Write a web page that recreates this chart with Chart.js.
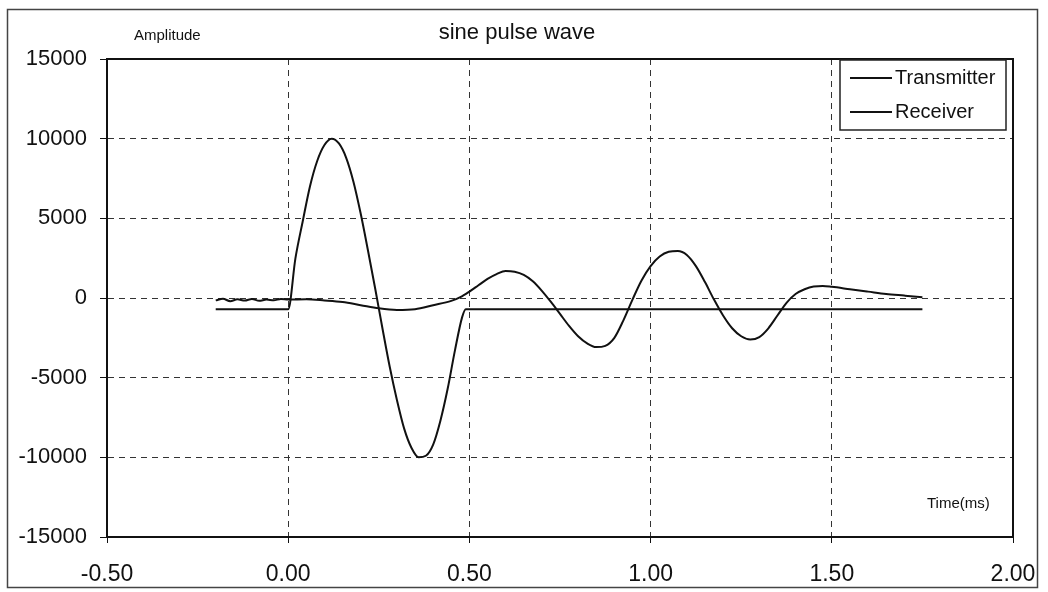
<!DOCTYPE html>
<html>
<head>
    <title>sine pulse wave</title>
    <script src="https://cdn.jsdelivr.net/npm/chart.js"></script>
    <style>
        body {
            background-color: #ffffff;
            margin: 0;
            padding: 0;
        }
        .chart-container {
            width: 1048px;
            height: 592px;
        }
    </style>
</head>
<body>
    <div class="chart-container">
        <canvas id="pulseChart" width="1048" height="592"></canvas>
    </div>

    <script>
        // time (ms) and amplitude
        const transmitterTime = [-0.20, 0.00, 0.02, 0.04, 0.06, 0.08, 0.10, 0.12, 0.14, 0.16, 0.18, 0.20,
            0.22, 0.24, 0.26, 0.28, 0.30, 0.32, 0.34, 0.36, 0.38, 0.40, 0.42, 0.44, 0.46, 0.48, 0.49, 1.75];
        const transmitterAmp = [-700, -700, 2500, 4800, 7000, 8600, 9600, 10000, 9700, 8800, 7300, 5300,
            3000, 600, -1900, -4300, -6400, -8200, -9400, -10000, -9900, -9200, -7700, -5700, -3300, -1200, -700, -700];

        const receiverTime = [-0.20, -0.18, -0.16, -0.14, -0.12, -0.10, -0.08, -0.06, -0.04, -0.02, 0.00,
            0.05, 0.10, 0.15, 0.20, 0.25, 0.30, 0.35, 0.40, 0.45, 0.475, 0.50, 0.525, 0.55, 0.575, 0.60,
            0.625, 0.65, 0.675, 0.70, 0.725, 0.75, 0.775, 0.80, 0.825, 0.85, 0.875, 0.90, 0.925, 0.95,
            0.975, 1.00, 1.025, 1.05, 1.075, 1.10, 1.125, 1.15, 1.175, 1.20, 1.225, 1.25, 1.275, 1.30,
            1.325, 1.35, 1.375, 1.40, 1.425, 1.45, 1.475, 1.50, 1.55, 1.60, 1.65, 1.70, 1.75];
        const receiverAmp = [-150, -50, -200, -80, -160, -60, -180, -100, -140, -60, -100,
            -80, -150, -250, -450, -650, -750, -700, -450, -180, 50, 400, 800, 1200, 1500, 1700,
            1650, 1450, 1050, 450, -250, -1000, -1750, -2400, -2850, -3080, -3000, -2500, -1400, -100,
            1100, 2000, 2600, 2900, 2950, 2700, 2000, 1000, -100, -1100, -1900, -2400, -2600, -2450,
            -1900, -1100, -300, 250, 550, 720, 750, 700, 550, 400, 250, 150, 50];

        const seriesNames = ['Transmitter', 'Receiver'];
        const chartTitle = 'sine pulse wave';
        const yAxisLabel = 'Amplitude';
        const xAxisLabel = 'Time(ms)';

        const FONT = 'Arial, "Liberation Sans", sans-serif';

        function toPoints(xs, ys) {
            return xs.map((x, i) => ({ x: x, y: ys[i] }));
        }

        // texts, legend box and frames drawn like the Excel original
        const excelDecor = {
            id: 'excelDecor',
            afterDraw(chart) {
                const ctx = chart.ctx;
                const a = chart.chartArea;
                ctx.save();

                // outer frame
                ctx.strokeStyle = '#444';
                ctx.lineWidth = 1.5;
                ctx.strokeRect(7.5, 9.5, 1030, 578);

                // plot area frame
                ctx.strokeStyle = '#111';
                ctx.lineWidth = 2;
                ctx.strokeRect(a.left, a.top, a.right - a.left, a.bottom - a.top);

                ctx.fillStyle = '#111';
                ctx.textBaseline = 'middle';
                ctx.textAlign = 'center';
                ctx.font = '22px ' + FONT;
                ctx.fillText(chartTitle, 517, 33);

                ctx.textAlign = 'left';
                ctx.font = '15px ' + FONT;
                ctx.fillText(yAxisLabel, 134, 36);
                ctx.fillText(xAxisLabel, 927, 504);

                // legend
                ctx.fillStyle = '#fff';
                ctx.fillRect(840, 60, 166, 70);
                ctx.strokeStyle = '#222';
                ctx.lineWidth = 1.5;
                ctx.strokeRect(840, 60, 166, 70);
                ctx.font = '20px ' + FONT;
                ctx.fillStyle = '#111';
                chart.data.datasets.forEach((ds, i) => {
                    const y = 78 + i * 34;
                    ctx.strokeStyle = ds.borderColor;
                    ctx.lineWidth = 2;
                    ctx.beginPath();
                    ctx.moveTo(850, y);
                    ctx.lineTo(892, y);
                    ctx.stroke();
                    ctx.fillText(ds.label, 895, y);
                });

                ctx.restore();
            }
        };

        const ctx = document.getElementById('pulseChart').getContext('2d');

        new Chart(ctx, {
            type: 'line',
            data: {
                datasets: [
                    {
                        label: seriesNames[0],
                        data: toPoints(transmitterTime, transmitterAmp),
                        borderColor: '#111',
                        borderWidth: 2,
                        pointRadius: 0,
                        cubicInterpolationMode: 'monotone',
                        fill: false
                    },
                    {
                        label: seriesNames[1],
                        data: toPoints(receiverTime, receiverAmp),
                        borderColor: '#111',
                        borderWidth: 2,
                        pointRadius: 0,
                        cubicInterpolationMode: 'monotone',
                        fill: false
                    }
                ]
            },
            options: {
                responsive: false,
                animation: false,
                layout: {
                    padding: { left: 0, right: 35, top: 59, bottom: 0 }
                },
                plugins: {
                    legend: { display: false },
                    title: { display: false },
                    tooltip: { enabled: false }
                },
                scales: {
                    x: {
                        type: 'linear',
                        min: -0.5,
                        max: 2.0,
                        afterFit: function(scale) {
                            scale.height = 55;
                            scale.paddingLeft = 0;
                            scale.paddingRight = 0;
                        },
                        ticks: {
                            stepSize: 0.5,
                            padding: 18,
                            color: '#111',
                            font: { family: FONT, size: 23 },
                            maxRotation: 0,
                            callback: function(value) { return value.toFixed(2); }
                        },
                        grid: {
                            color: '#333',
                            lineWidth: 1,
                            tickLength: 6,
                            tickColor: '#111'
                        },
                        border: { display: true, color: '#111', width: 2, dash: [6, 5] }
                    },
                    y: {
                        min: -15000,
                        max: 15000,
                        afterFit: function(scale) { scale.width = 107; },
                        ticks: {
                            stepSize: 5000,
                            padding: 13,
                            color: '#111',
                            font: { family: FONT, size: 22 },
                            callback: function(value) { return String(value); }
                        },
                        grid: {
                            color: '#333',
                            lineWidth: 1,
                            tickLength: 7,
                            tickColor: '#111'
                        },
                        border: { display: true, color: '#111', width: 2, dash: [6, 5] }
                    }
                }
            },
            plugins: [excelDecor]
        });
    </script>
</body>
</html>
